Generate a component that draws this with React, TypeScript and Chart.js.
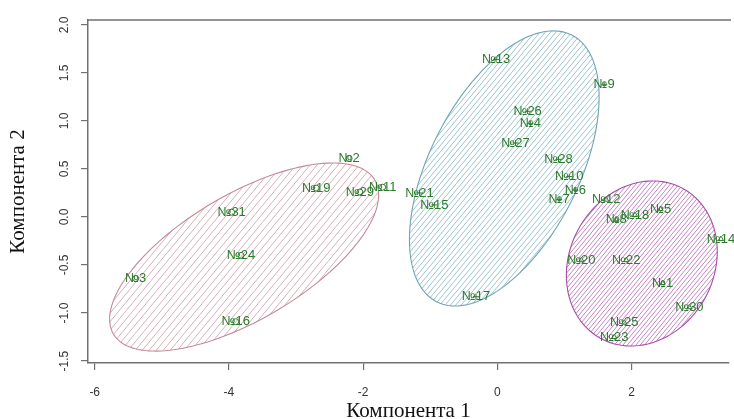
import React, { useEffect, useRef } from 'react';
import { Chart, registerables } from 'chart.js';

Chart.register(...registerables);

// ---- data ----
const pointIds = [1, 2, 3, 4, 5, 6, 7, 8, 9, 10, 11, 12, 13, 14, 15, 16, 17, 18, 19, 20, 21, 22, 23, 24, 25, 26, 27, 28, 29, 30, 31];
const xValues = [2.46, -2.21, -5.39, 0.49, 2.43, 1.16, 0.92, 1.77, 1.59, 1.07, -1.71, 1.62, -0.02, 3.33, -0.94, -3.9, -0.32, 2.05, -2.7, 1.25, -1.16, 1.92, 1.74, -3.82, 1.89, 0.45, 0.27, 0.91, -2.05, 2.86, -3.96];
const yValues = [-0.69, 0.61, -0.64, 0.97, 0.08, 0.28, 0.18, -0.03, 1.375, 0.42, 0.31, 0.18, 1.64, -0.23, 0.125, -1.09, -0.83, 0.02, 0.3, -0.45, 0.25, -0.45, -1.25, -0.4, -1.1, 1.1, 0.77, 0.6, 0.26, -0.94, 0.05];
const clusterOf = [3, 1, 1, 2, 3, 2, 2, 3, 2, 2, 1, 3, 2, 3, 2, 1, 2, 3, 1, 3, 2, 3, 3, 1, 3, 2, 2, 2, 1, 3, 1];

const clusterIds = [1, 2, 3];
const clusterColors = ['#c48a98', '#6fa6b6', '#a64ca6'];
const clusterPointStyles = ['circle', 'cross', 'triangle'];
const hatchSpacing = [7, 5.3, 4.3];

// ellipse parameters (data units): centre, half-extent in x, half-extent in y, covariance term
const ellipseCx = [-3.774, 0.102, 2.151];
const ellipseCy = [-0.417, 0.505, -0.484];
const ellipseSx = [2.004, 1.413, 1.124];
const ellipseSy = [0.979, 1.432, 0.859];
const ellipseCov = [1.294, 1.048, 0.139];

const xTicks = [-6, -4, -2, 0, 2];
const yTicks = [-1.5, -1.0, -0.5, 0.0, 0.5, 1.0, 1.5, 2.0];

const xTitle = 'Компонента 1';
const yTitle = 'Компонента 2';
const labelColor = '#2b7a2b';
const axisColor = '#707070';

const ellipsePlugin = {
  id: 'ellipses',
  beforeDatasetsDraw(chart: any) {
    const { ctx, scales } = chart;
    const xs = scales.x;
    const ys = scales.y;
    for (let i = 0; i < ellipseCx.length; i++) {
      const ux = ellipseSx[i];
      const uy = ellipseCov[i] / ellipseSx[i];
      const vy = Math.sqrt(Math.max(0, ellipseSy[i] * ellipseSy[i] - uy * uy));
      const pts: [number, number][] = [];
      const n = 160;
      for (let k = 0; k <= n; k++) {
        const t = (k / n) * Math.PI * 2;
        const dx = ellipseCx[i] + ux * Math.cos(t);
        const dy = ellipseCy[i] + uy * Math.cos(t) + vy * Math.sin(t);
        pts.push([xs.getPixelForValue(dx), ys.getPixelForValue(dy)]);
      }
      let minX = Infinity, maxX = -Infinity, minY = Infinity, maxY = -Infinity;
      pts.forEach(([px, py]) => {
        minX = Math.min(minX, px); maxX = Math.max(maxX, px);
        minY = Math.min(minY, py); maxY = Math.max(maxY, py);
      });
      const path = new Path2D();
      pts.forEach(([px, py], k) => (k === 0 ? path.moveTo(px, py) : path.lineTo(px, py)));
      path.closePath();

      ctx.save();
      ctx.clip(path);
      ctx.strokeStyle = clusterColors[i];
      ctx.lineWidth = 0.8;
      ctx.globalAlpha = 0.85;
      const ang = (50 * Math.PI) / 180;
      const h = maxY - minY;
      const run = h / Math.tan(ang);
      ctx.beginPath();
      for (let x0 = minX - run - hatchSpacing[i]; x0 <= maxX + hatchSpacing[i]; x0 += hatchSpacing[i]) {
        ctx.moveTo(x0, maxY + 1);
        ctx.lineTo(x0 + run, minY - 1);
      }
      ctx.stroke();
      ctx.restore();

      ctx.save();
      ctx.strokeStyle = clusterColors[i];
      ctx.lineWidth = 1.1;
      ctx.stroke(path);
      ctx.restore();
    }
  },
};

const labelPlugin = {
  id: 'pointLabels',
  afterDatasetsDraw(chart: any) {
    const { ctx } = chart;
    ctx.save();
    ctx.font = '13px "Liberation Sans", Arial, sans-serif';
    ctx.fillStyle = labelColor;
    ctx.textAlign = 'center';
    ctx.textBaseline = 'middle';
    chart.data.datasets.forEach((ds: any, di: number) => {
      const meta = chart.getDatasetMeta(di);
      meta.data.forEach((el: any, j: number) => {
        ctx.fillText('№' + ds.data[j].id, el.x, el.y);
      });
    });
    ctx.restore();
  },
};

const frameTopPlugin = {
  id: 'frameTop',
  afterDraw(chart: any) {
    const { ctx, chartArea } = chart;
    ctx.save();
    ctx.strokeStyle = axisColor;
    ctx.lineWidth = 1.5;
    ctx.beginPath();
    ctx.moveTo(chartArea.left, chartArea.top);
    ctx.lineTo(chartArea.right + 2, chartArea.top);
    ctx.stroke();
    ctx.restore();
  },
};

export default function App() {
  const canvasRef = useRef<HTMLCanvasElement | null>(null);

  useEffect(() => {
    document.body.style.margin = '0';
    const canvas = canvasRef.current;
    if (!canvas) return;

    const datasets = clusterIds.map((cid, ci) => ({
      label: 'Кластер ' + cid,
      data: pointIds
        .map((id, k) => ({ x: xValues[k], y: yValues[k], id, c: clusterOf[k] }))
        .filter((p) => p.c === cid),
      pointStyle: clusterPointStyles[ci],
      pointRadius: 3,
      pointBorderWidth: 1,
      pointBorderColor: labelColor,
      pointBackgroundColor: 'rgba(0,0,0,0)',
      showLine: false,
    }));

    const chart = new Chart(canvas, {
      type: 'scatter',
      data: { datasets },
      options: {
        animation: false,
        responsive: false,
        layout: { padding: { top: 20, right: 0, bottom: 0, left: 0 } },
        plugins: { legend: { display: false }, tooltip: { enabled: false } },
        scales: {
          x: {
            type: 'linear',
            min: -6.1,
            max: 3.45,
            afterBuildTicks: (scale: any) => {
              scale.ticks = xTicks.map((v) => ({ value: v }));
            },
            afterFit: (scale: any) => {
              scale.height = 56;
            },
            grid: { display: true, drawOnChartArea: false, drawTicks: true, tickLength: 7, color: axisColor, lineWidth: 1.2 },
            border: { display: true, color: axisColor, width: 1.5 },
            ticks: {
              autoSkip: false,
              padding: 15,
              color: '#333',
              font: { family: '"Liberation Sans", Arial, sans-serif', size: 12 },
              callback: (v: any) => String(v),
            },
            title: {
              display: true,
              text: xTitle,
              color: '#111',
              font: { family: '"Liberation Serif", "Times New Roman", serif', size: 21, lineHeight: 1 },
              padding: { top: 0, bottom: -3 },
            },
          },
          y: {
            type: 'linear',
            min: -1.52,
            max: 2.05,
            afterBuildTicks: (scale: any) => {
              scale.ticks = yTicks.map((v) => ({ value: v }));
            },
            afterFit: (scale: any) => {
              scale.width = 88;
            },
            grid: { display: true, drawOnChartArea: false, drawTicks: true, tickLength: 7, color: axisColor, lineWidth: 1.2 },
            border: { display: true, color: axisColor, width: 1.5 },
            ticks: {
              autoSkip: false,
              minRotation: 90,
              maxRotation: 90,
              crossAlign: 'center',
              padding: 6,
              color: '#333',
              font: { family: '"Liberation Sans", Arial, sans-serif', size: 12 },
              callback: (v: any) => Number(v).toFixed(1),
            },
            title: {
              display: true,
              text: yTitle,
              color: '#111',
              font: { family: '"Liberation Serif", "Times New Roman", serif', size: 21, lineHeight: 1 },
              padding: { top: 7.5, bottom: 0 },
            },
          },
        },
      },
      plugins: [ellipsePlugin, labelPlugin, frameTopPlugin],
    } as any);

    return () => chart.destroy();
  }, []);

  return (
    <div style={{ width: 734, height: 419, overflow: 'hidden', background: '#fff' }}>
      <canvas ref={canvasRef} width={734} height={419} style={{ display: 'block' }} />
    </div>
  );
}
